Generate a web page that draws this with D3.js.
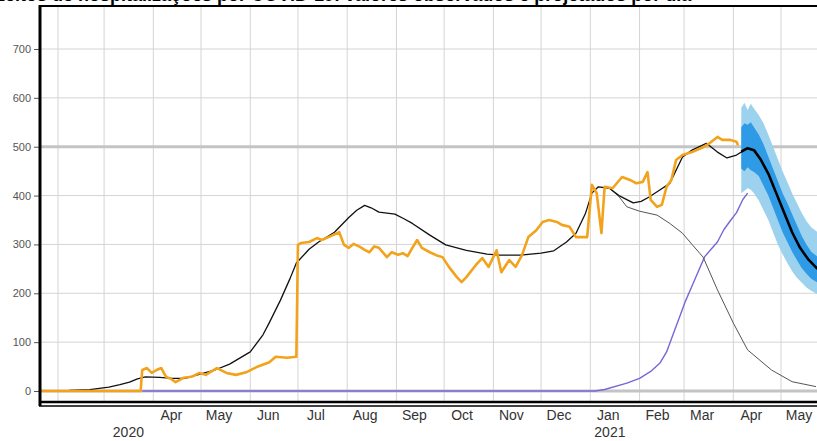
<!DOCTYPE html>
<html>
<head>
<meta charset="utf-8">
<script src="https://cdn.jsdelivr.net/npm/d3@7"></script>
<style>
  body { margin: 0; background: #fff; }
  svg { display: block; font-family: "Liberation Sans", Arial, sans-serif; }
  .grid line { stroke: #d4d4d4; stroke-width: 1; }
  .yaxis text { font-size: 11px; fill: #555; }
  .yaxis line { stroke: #555; }
  .xaxis text { font-size: 14px; fill: #333; }
</style>
</head>
<body>
<div id="chart"></div>
<script>
// observed hospitalisations (orange)
var observed = [
  ["2020-01-21",0],["2020-03-24",0],["2020-03-25",43],["2020-03-28",47],["2020-03-31",37],
  ["2020-04-03",43],["2020-04-06",47],["2020-04-09",29],["2020-04-12",25],["2020-04-15",18],
  ["2020-04-20",27],["2020-04-25",29],["2020-04-30",37],["2020-05-04",33],["2020-05-11",47],
  ["2020-05-17",37],["2020-05-23",33],["2020-05-30",39],["2020-06-05",49],["2020-06-13",59],
  ["2020-06-17",70],["2020-06-24",68],["2020-06-30",70],["2020-07-01",299],["2020-07-03",303],
  ["2020-07-08",305],["2020-07-13",313],["2020-07-16",309],["2020-07-23",319],["2020-07-27",325],
  ["2020-07-30",299],["2020-08-02",293],["2020-08-05",301],["2020-08-09",295],["2020-08-12",289],
  ["2020-08-15",284],["2020-08-18",296],["2020-08-21",293],["2020-08-26",274],["2020-08-29",284],
  ["2020-09-02",279],["2020-09-05",282],["2020-09-08",276],["2020-09-11",293],["2020-09-14",309],
  ["2020-09-17",293],["2020-09-22",284],["2020-09-26",278],["2020-09-30",274],["2020-10-04",254],
  ["2020-10-09",233],["2020-10-12",223],["2020-10-15",233],["2020-10-21",258],["2020-10-25",272],
  ["2020-10-29",254],["2020-11-03",288],["2020-11-06",243],["2020-11-11",268],["2020-11-15",254],
  ["2020-11-19",278],["2020-11-23",315],["2020-11-28",329],["2020-12-02",346],["2020-12-06",350],
  ["2020-12-11",346],["2020-12-14",340],["2020-12-19",336],["2020-12-23",315],["2020-12-30",315],
  ["2021-01-02",422],["2021-01-05",405],["2021-01-08",323],["2021-01-10",418],["2021-01-15",415],
  ["2021-01-21",438],["2021-01-26",432],["2021-01-30",425],["2021-02-03",428],["2021-02-06",448],
  ["2021-02-08",391],["2021-02-12",377],["2021-02-15",381],["2021-02-18",418],["2021-02-21",432],
  ["2021-02-24",473],["2021-02-28",483],["2021-03-06",489],["2021-03-13",499],["2021-03-17",507],
  ["2021-03-22",520],["2021-03-25",514],["2021-03-30",514],["2021-04-03",510],["2021-04-04",503]
];

// fitted total (thin black)
var fitted = [
  ["2020-01-21",0],["2020-02-08",1],["2020-02-21",3],["2020-03-04",8],["2020-03-11",13],
  ["2020-03-17",18],["2020-03-22",25],["2020-03-27",29],["2020-04-05",28],["2020-04-13",26],
  ["2020-04-21",26],["2020-05-01",35],["2020-05-09",42],["2020-05-19",55],["2020-06-01",80],
  ["2020-06-09",115],["2020-06-13",140],["2020-06-20",186],["2020-06-26",230],["2020-06-30",262],
  ["2020-07-08",290],["2020-07-14",305],["2020-07-24",325],["2020-08-02",355],["2020-08-07",370],
  ["2020-08-12",380],["2020-08-16",375],["2020-08-21",366],["2020-08-31",362],["2020-09-06",352],
  ["2020-09-11",343],["2020-09-22",319],["2020-10-02",299],["2020-10-15",288],["2020-10-28",280],
  ["2020-11-05",278],["2020-11-18",278],["2020-12-01",282],["2020-12-09",287],["2020-12-17",305],
  ["2020-12-23",323],["2020-12-29",364],["2021-01-02",405],["2021-01-06",418],["2021-01-13",415],
  ["2021-01-19",400],["2021-01-28",385],["2021-02-02",388],["2021-02-07",397],["2021-02-13",410],
  ["2021-02-20",425],["2021-02-28",479],["2021-03-06",493],["2021-03-15",507],["2021-03-22",489],
  ["2021-03-28",477],["2021-04-03",483],["2021-04-08",493]
];

// older variants, waning (grey)
var waning = [
  ["2021-01-13",415],["2021-01-19",398],["2021-01-24",377],["2021-02-01",368],["2021-02-12",360],
  ["2021-02-20",343],["2021-02-28",323],["2021-03-06",300],["2021-03-13",274],["2021-03-22",207],
  ["2021-04-01",139],["2021-04-10",84],["2021-04-25",43],["2021-05-08",19],["2021-05-23",9]
];

// new variant (purple)
var variant = [
  ["2020-03-25",0],["2021-01-04",0],["2021-01-10",3],["2021-01-24",16],["2021-02-01",26],
  ["2021-02-08",40],["2021-02-14",58],["2021-02-18",80],["2021-02-22",115],["2021-02-26",150],
  ["2021-03-02",185],["2021-03-06",215],["2021-03-10",245],["2021-03-14",275],["2021-03-18",290],
  ["2021-03-22",305],["2021-03-26",330],["2021-03-30",348],["2021-04-03",365],["2021-04-07",392],
  ["2021-04-10",405]
];

// projection median (thick black)
var projection = [
  ["2021-04-06",490],["2021-04-10",497],["2021-04-14",493],["2021-04-18",475],["2021-04-23",445],
  ["2021-04-28",405],["2021-05-03",365],["2021-05-08",325],["2021-05-13",293],["2021-05-18",270],
  ["2021-05-24",250]
];

// projection intervals
var bandDates = ["2021-04-06","2021-04-08","2021-04-10","2021-04-12","2021-04-14","2021-04-17",
  "2021-04-20","2021-04-23","2021-04-26","2021-04-29","2021-05-02","2021-05-05","2021-05-08",
  "2021-05-11","2021-05-14","2021-05-17","2021-05-20","2021-05-24"];
var lo95 = [405,410,415,412,405,390,370,350,325,300,280,262,245,232,222,212,205,198];
var lo50 = [455,450,458,452,448,440,420,400,375,350,325,305,285,268,252,240,230,222];
var hi50 = [540,548,545,550,540,525,505,480,455,430,405,385,362,340,318,300,285,275];
var hi95 = [580,590,575,588,578,565,548,525,500,475,450,428,405,385,365,348,335,325];

var yTicks = [0,100,200,300,400,500,600,700];
var monthTicks = ["2020-04-12","2020-05-12","2020-06-12","2020-07-12","2020-08-12","2020-09-12",
  "2020-10-12","2020-11-12","2020-12-12","2021-01-12","2021-02-12","2021-03-12","2021-04-12","2021-05-12"];
var monthNames = ["Apr","May","Jun","Jul","Aug","Sep","Oct","Nov","Dec","Jan","Feb","Mar","Apr","May"];
var monthStarts = ["2020-02-01","2020-03-01","2020-04-01","2020-05-01","2020-06-01","2020-07-01",
  "2020-08-01","2020-09-01","2020-10-01","2020-11-01","2020-12-01","2021-01-01","2021-02-01",
  "2021-03-01","2021-04-01","2021-05-01"];
var yearTicks = ["2020-03-16","2021-01-13"];
var yearNames = ["2020","2021"];
var title = "Leitos de hospitalizações por COVID-19: valores observados e projetados por dia";

var width = 817, height = 441;
var plotL = 40, plotR = 817, plotT = 6, plotB = 403;
var parse = d3.timeParse("%Y-%m-%d");

var x = d3.scaleTime()
  .domain([parse("2020-02-01"), parse("2021-05-01")])
  .range([58, 781]);
var y = d3.scaleLinear().domain([0, 700]).range([391, 49]);

var svg = d3.select("#chart").append("svg")
  .attr("width", width)
  .attr("height", height);

svg.append("defs").append("clipPath").attr("id", "plot")
  .append("rect")
  .attr("x", plotL).attr("y", plotT)
  .attr("width", plotR - plotL).attr("height", plotB - plotT);

// title, cut off by the top edge like the source image
svg.append("text")
  .attr("x", -6).attr("y", 1)
  .style("font-size", "18px")
  .style("font-weight", "bold")
  .attr("fill", "#000")
  .text(title);

var plot = svg.append("g").attr("clip-path", "url(#plot)");

// grid
var grid = plot.append("g").attr("class", "grid");
grid.selectAll(".v").data(monthStarts).enter().append("line")
  .attr("x1", function(d) { return x(parse(d)); })
  .attr("x2", function(d) { return x(parse(d)); })
  .attr("y1", plotT).attr("y2", plotB);
grid.selectAll(".h").data(yTicks.filter(function(d) { return d != 0 && d != 500; }))
  .enter().append("line")
  .attr("x1", plotL).attr("x2", plotR)
  .attr("y1", function(d) { return y(d); })
  .attr("y2", function(d) { return y(d); });

// reference lines at 0 and 500
plot.selectAll(".ref").data([0, 500]).enter().append("line")
  .attr("x1", plotL).attr("x2", plotR)
  .attr("y1", function(d) { return y(d); })
  .attr("y2", function(d) { return y(d); })
  .attr("stroke", "#c4c4c4")
  .attr("stroke-width", 3);

// projection bands
var band = bandDates.map(function(d, i) {
  return { date: parse(d), lo95: lo95[i], lo50: lo50[i], hi50: hi50[i], hi95: hi95[i] };
});
plot.append("path").datum(band)
  .attr("fill", "#9dd2ef")
  .attr("d", d3.area()
    .x(function(d) { return x(d.date); })
    .y0(function(d) { return y(d.lo95); })
    .y1(function(d) { return y(d.hi95); }));
plot.append("path").datum(band)
  .attr("fill", "#2f9be6")
  .attr("d", d3.area()
    .x(function(d) { return x(d.date); })
    .y0(function(d) { return y(d.lo50); })
    .y1(function(d) { return y(d.hi50); }));

var line = d3.line()
  .x(function(d) { return x(parse(d[0])); })
  .y(function(d) { return y(d[1]); });

var drawLine = function(data, colour, w) {
  plot.append("path").datum(data)
    .attr("fill", "none")
    .attr("stroke", colour)
    .attr("stroke-width", w)
    .attr("stroke-linejoin", "round")
    .attr("d", line);
};

drawLine(variant, "#7468d6", 1.4);
drawLine(waning, "#555", 1);
drawLine(fitted, "#111", 1.3);
drawLine(observed, "#f2a31b", 2.6);
drawLine(projection, "#000", 2.6);

// y axis
svg.append("g")
  .attr("class", "yaxis")
  .attr("transform", "translate(" + plotL + ",0)")
  .call(d3.axisLeft(y).tickValues(yTicks).tickSize(6).tickPadding(3))
  .call(function(g) { g.select(".domain").remove(); });

// x labels
svg.append("g")
  .attr("class", "xaxis")
  .attr("transform", "translate(0," + 407 + ")")
  .call(d3.axisBottom(x).tickValues(monthTicks.map(parse)).tickSize(0).tickPadding(3)
    .tickFormat(function(d, i) { return monthNames[i]; }))
  .call(function(g) { g.select(".domain").remove(); });
svg.append("g")
  .attr("class", "xaxis")
  .attr("transform", "translate(0," + 424 + ")")
  .call(d3.axisBottom(x).tickValues(yearTicks.map(parse)).tickSize(0).tickPadding(3)
    .tickFormat(function(d, i) { return yearNames[i]; }))
  .call(function(g) { g.select(".domain").remove(); });

// frame
svg.append("line").attr("x1", plotL).attr("x2", plotR).attr("y1", plotT).attr("y2", plotT)
  .attr("stroke", "#000").attr("stroke-width", 2);
svg.append("line").attr("x1", plotL).attr("x2", plotL).attr("y1", plotT - 1).attr("y2", plotB + 3)
  .attr("stroke", "#000").attr("stroke-width", 3);
svg.append("line").attr("x1", plotL - 1).attr("x2", plotR).attr("y1", plotB - 1).attr("y2", plotB - 1)
  .attr("stroke", "#000").attr("stroke-width", 2.5);
svg.append("line").attr("x1", plotL - 1).attr("x2", plotR).attr("y1", plotB + 3).attr("y2", plotB + 3)
  .attr("stroke", "#000").attr("stroke-width", 1.3);
</script>
</body>
</html>
